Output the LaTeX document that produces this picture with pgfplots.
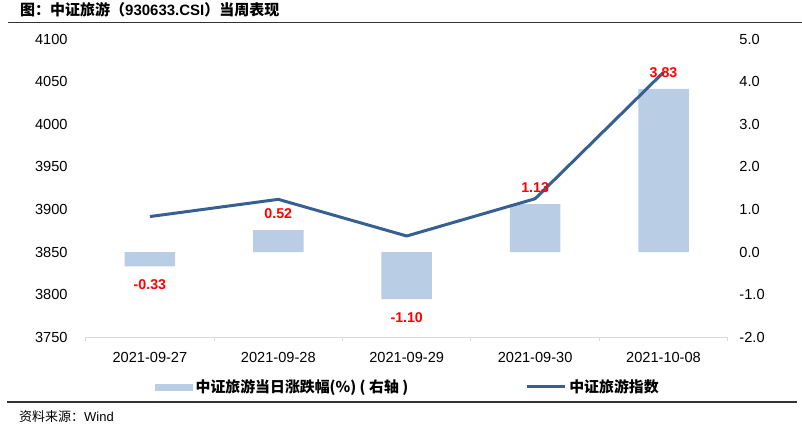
\documentclass[border=0pt]{standalone}
\usepackage{pgfplots}
\pgfplotsset{compat=1.18}
\usepackage{fontspec}
\setmainfont{Liberation Sans}
\newfontfamily\cjk{Noto Sans CJK SC}
\definecolor{barc}{HTML}{B9CDE5}
\definecolor{linec}{HTML}{376092}
\definecolor{axc}{HTML}{D9D9D9}
\pgfplotsset{
 /pgf/number format/assume math mode=true,
 base/.style={at={(85.7pt,92.5pt)}, anchor=south west, scale only axis,
   width=642pt, height=298.5pt, xmin=-0.5, xmax=4.5, clip=false,
   ticklabel style={font=\fontsize{14.6}{14.6}\selectfont}},
}
\begin{document}
\begin{tikzpicture}[x=1pt,y=1pt]
\path[use as bounding box] (0,0) rectangle (802,430);
% bars, right scale
\begin{axis}[base, ymin=-2, ymax=5, ytick={-2,-1,...,5},
  axis y line*=right, axis x line*=bottom,
  y axis line style={draw=none}, ytick style={draw=none},
  yticklabel style={anchor=west, inner sep=0pt, xshift=7.3pt,
    /pgf/number format/.cd, fixed, fixed zerofill, precision=1},
  xtick={0,...,4},
  xticklabels={2021-09-27,2021-09-28,2021-09-29,2021-09-30,2021-10-08},
  major x tick style={draw=none},
  minor xtick={-0.5,0.5,...,4.5}, minor x tick style={axc, line width=1pt},
  minor tick length=4pt, tick align=outside,
  x axis line style={axc, line width=1pt},
  xticklabel style={anchor=center, inner sep=0pt, yshift=-15.8pt}]
\addplot[ybar, bar width=50.5pt, fill=barc, draw=none]
  coordinates {(0,-0.33) (1,0.52) (2,-1.10) (3,1.13) (4,3.83)};
\end{axis}
% line, left scale
\begin{axis}[base, ymin=3750, ymax=4100, ytick={3750,3800,...,4100},
  axis y line*=left, axis x line=none,
  y axis line style={draw=none}, ytick style={draw=none},
  yticklabel style={anchor=east, inner sep=0pt, xshift=-18pt,
    /pgf/number format/.cd, 1000 sep={}},
  legend columns=2,
  legend style={at={(0.108,-0.1658)}, anchor=west, draw=none, fill=none,
    inner sep=0pt, /tikz/column 2/.style={column sep=114pt},
    nodes={inner sep=3pt},
    font=\cjk\bfseries\fontsize{14.9}{14.9}\selectfont}]
\addlegendimage{legend image code/.code={\fill[barc] (0pt,-3pt) rectangle (37pt,3pt);}}
\addlegendentry{中证旅游当日涨跌幅(\%) ( 右轴 )}
\addplot[linec, line width=3pt, line join=round,
  legend image code/.code={\draw[linec, line width=3pt] (0pt,0pt) -- (38pt,0pt);}]
  coordinates {(0,3891.8) (1,3912.0) (2,3869.0) (3,3912.7) (4,4061.0)};
\addlegendentry{中证旅游指数}
\end{axis}
% value labels
\begin{axis}[base, ymin=-2, ymax=5, hide axis]
\addplot[draw=none, point meta=y,
  nodes near coords={\pgfmathprintnumber[fixed,fixed zerofill,precision=2]{\pgfplotspointmeta}},
  every node near coord/.append style={anchor=center, yshift=16.5pt, text=red,
    font=\bfseries\fontsize{14.2}{14.2}\selectfont}]
  coordinates {(1,0.52) (3,1.13) (4,3.83)};
\addplot[draw=none, point meta=y,
  nodes near coords={\pgfmathprintnumber[fixed,fixed zerofill,precision=2]{\pgfplotspointmeta}},
  every node near coord/.append style={anchor=center, yshift=-18.5pt, text=red,
    font=\bfseries\fontsize{14.2}{14.2}\selectfont}]
  coordinates {(0,-0.33) (2,-1.10)};
\end{axis}
\draw[black!80, line width=1.2pt] (8,407.3) -- (802,407.3);
\draw[black!80, line width=1.2pt] (7,28) -- (797,28);
\node[anchor=west, inner sep=0pt] at (20,420.5)
  {\bfseries\fontsize{15}{15}\selectfont{\cjk 图：中证旅游（}930633.CSI{\cjk ）当周表现}};
\node[anchor=west, inner sep=0pt] at (19,13)
  {\fontsize{13}{13}\selectfont{\cjk 资料来源：}Wind};
\end{tikzpicture}
\end{document}
